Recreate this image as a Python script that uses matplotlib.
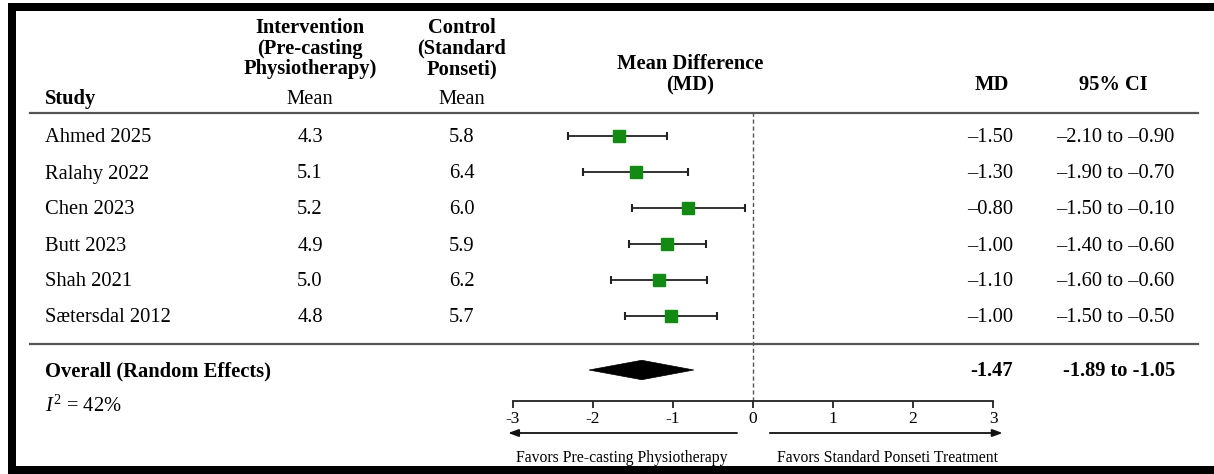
import matplotlib
matplotlib.use("Agg")
import matplotlib.pyplot as plt
import matplotlib.transforms as mtransforms
from matplotlib.patches import Polygon, Rectangle

plt.rcParams['font.family'] = ['Liberation Serif', 'DejaVu Serif']
plt.rcParams['axes.unicode_minus'] = False
plt.rcParams['mathtext.fontset'] = 'custom'
plt.rcParams['mathtext.rm'] = 'Liberation Serif'
plt.rcParams['mathtext.it'] = 'Liberation Serif:italic'

# ---------------- data ----------------
studies = ["Ahmed 2025", "Ralahy 2022", "Chen 2023", "Butt 2023", "Shah 2021", "Sætersdal 2012"]
intervention_mean = ["4.3", "5.1", "5.2", "4.9", "5.0", "4.8"]
control_mean = ["5.8", "6.4", "6.0", "5.9", "6.2", "5.7"]
md_text = ["–1.50", "–1.30", "–0.80", "–1.00", "–1.10", "–1.00"]
ci_text = ["–2.10 to –0.90", "–1.90 to –0.70", "–1.50 to –0.10",
           "–1.40 to –0.60", "–1.60 to –0.60", "–1.50 to –0.50"]
# plotted positions as drawn in the figure
md_plot = [-1.68, -1.46, -0.81, -1.07, -1.18, -1.03]
ci_low_plot = [-2.31, -2.12, -1.51, -1.55, -1.78, -1.60]
ci_high_plot = [-1.07, -0.81, -0.10, -0.59, -0.58, -0.45]
overall_label = "Overall (Random Effects)"
overall_md_text = "-1.47"
overall_ci_text = "-1.89 to -1.05"
overall_plot = [-2.05, -1.39, -0.74]  # low, est, high of diamond
heterogeneity = r"$I^2$ = 42%"
xticks = [-3, -2, -1, 0, 1, 2, 3]
xticklabels = ["-3", "-2", "-1", "0", "1", "2", "3"]
favors_left = "Favors Pre-casting Physiotherapy"
favors_right = "Favors Standard Ponseti Treatment"

W, H = 1214, 474
fig = plt.figure(figsize=(W / 100, H / 100), dpi=100)
fig.patch.set_facecolor("white")

# overlay axes in pixel coordinates for table text
tab = fig.add_axes([0, 0, 1, 1])
tab.set_xlim(0, W)
tab.set_ylim(H, 0)
tab.axis("off")

# border bands
tab.add_patch(Rectangle((8, 3), W - 8, 8, color="black", lw=0))
tab.add_patch(Rectangle((8, 3), 8, H - 3, color="black", lw=0))
tab.add_patch(Rectangle((8, 466), W - 8, 8, color="black", lw=0))

# horizontal rules
tab.plot([30, 1198], [113, 113], color="#555555", lw=1.6)
tab.plot([30, 1198], [344, 344], color="#555555", lw=1.6)

fs = 14.8
dy = 2
row_y = [136, 172, 208, 244, 280, 316]

# headers
tab.text(45, 97 + dy, "Study", fontsize=fs, fontweight="bold", ha="left", va="center")
for i, line in enumerate(["Intervention", "(Pre-casting", "Physiotherapy)"]):
    tab.text(310, 26 + dy + 20.5 * i, line, fontsize=fs, fontweight="bold", ha="center", va="center")
tab.text(310, 97 + dy, "Mean", fontsize=fs, ha="center", va="center")
for i, line in enumerate(["Control", "(Standard", "Ponseti)"]):
    tab.text(462, 26 + dy + 20.5 * i, line, fontsize=fs, fontweight="bold", ha="center", va="center")
tab.text(462, 97 + dy, "Mean", fontsize=fs, ha="center", va="center")
tab.text(690, 62 + dy, "Mean Difference", fontsize=fs, fontweight="bold", ha="center", va="center")
tab.text(690, 83 + dy, "(MD)", fontsize=fs, fontweight="bold", ha="center", va="center")
tab.text(992, 83 + dy, "MD", fontsize=fs, fontweight="bold", ha="center", va="center")
tab.text(1113, 83 + dy, "95% CI", fontsize=fs, fontweight="bold", ha="center", va="center")

for y, s, im, cm, md, ci in zip(row_y, studies, intervention_mean, control_mean, md_text, ci_text):
    tab.text(45, y + dy, s, fontsize=fs, ha="left", va="center")
    tab.text(310, y + dy, im, fontsize=fs, ha="center", va="center")
    tab.text(462, y + dy, cm, fontsize=fs, ha="center", va="center")
    tab.text(1013, y + dy, md, fontsize=fs, ha="right", va="center")
    tab.text(1175, y + dy, ci, fontsize=fs, ha="right", va="center")

tab.text(45, 369 + dy, overall_label, fontsize=fs, fontweight="bold", ha="left", va="center")
tab.text(1013, 369 + dy, overall_md_text, fontsize=fs, fontweight="bold", ha="right", va="center")
tab.text(1175, 369 + dy, overall_ci_text, fontsize=fs, fontweight="bold", ha="right", va="center")
tab.text(45, 404 + dy, heterogeneity, fontsize=fs, ha="left", va="center")

# forest axes
x0, x1 = 513, 993
ytop, ybot = 113, 401
ax = fig.add_axes([x0 / W, 1 - ybot / H, (x1 - x0) / W, (ybot - ytop) / H])
ax.patch.set_alpha(0)
ax.set_xlim(-3, 3)
ax.set_ylim((ybot - 136) / 36, (ytop - 136) / 36)
for sp in ["top", "left", "right"]:
    ax.spines[sp].set_visible(False)
ax.spines["bottom"].set_color("#222222")
ax.spines["bottom"].set_linewidth(1.3)
ax.set_yticks([])
ax.set_xticks(xticks)
ax.set_xticklabels(xticklabels, fontsize=12.5)
ax.tick_params(axis="x", direction="out", length=5, width=1.3, color="#222222", pad=2)

ax.axvline(0, color="#555555", lw=1.0, ls=(0, (3, 2)))

rows = list(range(len(studies)))
ax.hlines(rows, ci_low_plot, ci_high_plot, color="#222222", lw=1.3)
ax.plot(ci_low_plot, rows, ls="none", marker="|", ms=6, mew=1.5, color="#222222")
ax.plot(ci_high_plot, rows, ls="none", marker="|", ms=6, mew=1.5, color="#222222")
ax.plot(md_plot, rows, ls="none", marker="s", ms=8, color="#138a13", zorder=3)

oy = 6.5
lo, est, hi = overall_plot
ax.add_patch(Polygon([[lo, oy], [est, oy - 0.27], [hi, oy], [est, oy + 0.27]],
                     closed=True, facecolor="black", edgecolor="black", lw=0.5))

# arrows and favors text below the axis
bt = mtransforms.blended_transform_factory(ax.transData, tab.transData)
ax.annotate("", xy=(-3.06, 433), xytext=(-0.2, 433), xycoords=bt, textcoords=bt,
            arrowprops=dict(arrowstyle="-|>,head_length=0.6,head_width=0.22", color="#111111", lw=1.3,
                            shrinkA=0, shrinkB=0), annotation_clip=False)
ax.annotate("", xy=(3.12, 433), xytext=(0.21, 433), xycoords=bt, textcoords=bt,
            arrowprops=dict(arrowstyle="-|>,head_length=0.6,head_width=0.22", color="#111111", lw=1.3,
                            shrinkA=0, shrinkB=0), annotation_clip=False)
ax.text(-1.64, 458, favors_left, transform=bt, fontsize=11.3, ha="center", va="center")
ax.text(1.68, 458, favors_right, transform=bt, fontsize=11.3, ha="center", va="center")

fig.savefig("out.png", dpi=100, facecolor="white")
